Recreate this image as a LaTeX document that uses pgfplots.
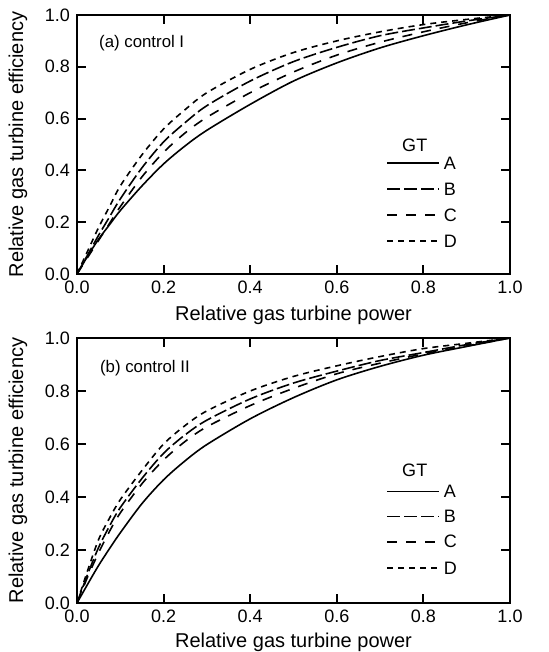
\documentclass[border=0pt]{standalone}
\usepackage{fontspec}
\setmainfont{Liberation Sans}
\usepackage{pgfplots}
\usepackage{pgfplotstable}
\pgfplotsset{compat=1.18}

% control I
\pgfplotstableread{
x     A      B      C      D
0     0      0      0      0
0.025 0.07   0.075  0.065  0.09
0.05  0.135  0.15   0.13   0.18
0.075 0.19   0.22   0.195  0.26
0.1   0.245  0.29   0.26   0.34
0.15  0.34   0.41   0.375  0.46
0.2   0.425  0.51   0.47   0.56
0.25  0.495  0.585  0.545  0.635
0.3   0.555  0.65   0.605  0.70
0.4   0.655  0.745  0.70   0.79
0.5   0.745  0.82   0.78   0.855
0.6   0.815  0.875  0.845  0.90
0.7   0.873  0.92   0.895  0.935
0.8   0.92   0.95   0.935  0.963
0.9   0.962  0.977  0.97   0.983
1.0   1      1      1      1
}\ctrlone

% control II
\pgfplotstableread{
x     A      B      C      D
0     0      0      0      0
0.025 0.072  0.11   0.10   0.125
0.05  0.142  0.21   0.19   0.24
0.075 0.205  0.29   0.27   0.32
0.1   0.265  0.36   0.34   0.39
0.15  0.375  0.47   0.45   0.50
0.2   0.465  0.565  0.54   0.60
0.25  0.537  0.635  0.61   0.67
0.3   0.598  0.69   0.665  0.725
0.4   0.695  0.77   0.745  0.80
0.5   0.775  0.83   0.81   0.855
0.6   0.842  0.875  0.865  0.895
0.7   0.893  0.915  0.905  0.93
0.8   0.935  0.945  0.94   0.96
0.9   0.968  0.975  0.97   0.98
1.0   1      1      1      1
}\ctrltwo

\tikzset{
  gA/.style={solid},
  gB/.style={dash pattern=on 6.5pt off 2pt},
  gC/.style={dash pattern=on 5pt off 4.5pt},
  gD/.style={dash pattern=on 3pt off 2.5pt},
}
\pgfplotsset{
  gtax/.style={
    scale only axis, width=216.5pt, anchor=south west,
    xmin=0, xmax=1, ymin=0, ymax=1,
    xtick={0,0.2,0.4,0.6,0.8,1}, ytick={0,0.2,0.4,0.6,0.8,1},
    tick align=inside, major tick length=4.5pt,
    axis line style={line width=1pt},
    every tick/.style={black, line width=1pt},
    /pgf/number format/assume math mode=true,
    xticklabel style={/pgf/number format/fixed, /pgf/number format/fixed zerofill,
      /pgf/number format/precision=1},
    yticklabel style={/pgf/number format/fixed, /pgf/number format/fixed zerofill,
      /pgf/number format/precision=1},
    tick label style={font=\fontsize{9}{10}\selectfont},
    label style={font=\fontsize{8.6}{10}\selectfont},
    xlabel={Relative gas turbine power},
    ylabel={Relative gas turbine efficiency},
    every axis y label/.style={at={(axis description cs:0,0.5)}, xshift=-29.5pt,
      rotate=90, anchor=center},
    every axis plot/.append style={black, line width=0.8pt},
  },
}
% legend key: line plus letter, in axis fractions
\newcommand{\gtkey}[3]{%
  \draw[#1, black, line width=0.8pt] (rel axis cs:0.716,#2) -- (rel axis cs:0.836,#2)
    node[anchor=west, inner sep=0pt, xshift=2pt, font=\fontsize{9}{10}\selectfont] {#3};}

\begin{document}
\begin{tikzpicture}
\useasboundingbox (0,0) rectangle (274pt,326pt);

\begin{axis}[gtax, at={(38.5pt,189pt)}, height=129.5pt,
  every axis x label/.style={at={(axis description cs:0.5,0)}, yshift=-20.5pt, anchor=center}]
\addplot[gA, smooth] table[x=x, y=A] {\ctrlone};
\addplot[gB, smooth] table[x=x, y=B] {\ctrlone};
\addplot[gC, smooth] table[x=x, y=C] {\ctrlone};
\addplot[gD, smooth] table[x=x, y=D] {\ctrlone};
\node[anchor=west, font=\fontsize{8.4}{10}\selectfont] at (rel axis cs:0.035,0.892) {(a) control I};
\node[font=\fontsize{9}{10}\selectfont] at (rel axis cs:0.78,0.498) {GT};
\gtkey{gA}{0.429}{A}
\gtkey{gB}{0.328}{B}
\gtkey{gC}{0.228}{C}
\gtkey{gD}{0.127}{D}
\end{axis}

\begin{axis}[gtax, at={(38.5pt,24.5pt)}, height=132.5pt,
  every axis x label/.style={at={(axis description cs:0.5,0)}, yshift=-19.5pt, anchor=center}]
\addplot[gA, smooth] table[x=x, y=A] {\ctrltwo};
\addplot[gB, smooth] table[x=x, y=B] {\ctrltwo};
\addplot[gC, smooth] table[x=x, y=C] {\ctrltwo};
\addplot[gD, smooth] table[x=x, y=D] {\ctrltwo};
\node[anchor=west, font=\fontsize{8.4}{10}\selectfont] at (rel axis cs:0.037,0.886) {(b) control II};
\node[font=\fontsize{9}{10}\selectfont] at (rel axis cs:0.78,0.502) {GT};
\gtkey{gA}{0.420}{A}
\gtkey{gB}{0.326}{B}
\gtkey{gC}{0.231}{C}
\gtkey{gD}{0.131}{D}
\end{axis}
\end{tikzpicture}
\end{document}
